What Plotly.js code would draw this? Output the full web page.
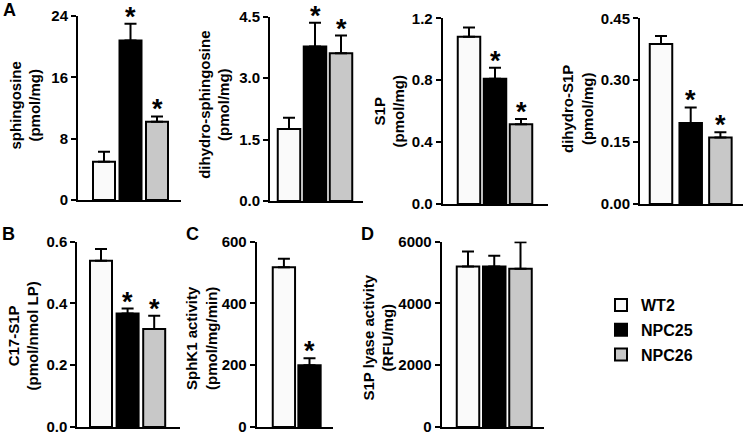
<!DOCTYPE html>
<html>
<head>
<meta charset="utf-8">
<script src="https://cdn.plot.ly/plotly-3.0.1.min.js"></script>
<style>html,body{margin:0;padding:0;background:#fff;}#chart{width:745px;height:436px;}</style>
</head>
<body>
<div id="chart"></div>
<script>
// ---- data ----
const groups = ['WT2', 'NPC25', 'NPC26'];

const sphingosineMean = [5.0, 20.8, 10.2];
const sphingosineSem  = [1.3, 2.2, 0.7];
const sphingosineSig  = [false, true, true];

const dihydroSphingosineMean = [1.76, 3.77, 3.61];
const dihydroSphingosineSem  = [0.27, 0.58, 0.43];
const dihydroSphingosineSig  = [false, true, true];

const s1pMean = [1.08, 0.81, 0.515];
const s1pSem  = [0.06, 0.07, 0.035];
const s1pSig  = [false, true, true];

const dihydroS1pMean = [0.388, 0.196, 0.161];
const dihydroS1pSem  = [0.019, 0.038, 0.013];
const dihydroS1pSig  = [false, true, true];

const c17S1pMean = [0.538, 0.367, 0.317];
const c17S1pSem  = [0.038, 0.016, 0.043];
const c17S1pSig  = [false, true, true];

const sphk1Mean = [517, 200, null];
const sphk1Sem  = [27, 22, null];
const sphk1Sig  = [false, true, false];

const lyaseMean = [5194, 5194, 5118];
const lyaseSem  = [483, 344, 860];
const lyaseSig  = [false, false, false];

const sphingosineTicks = [0, 8, 16, 24];
const dihydroSphingosineTicks = [0, 1.5, 3.0, 4.5];
const s1pTicks = [0, 0.4, 0.8, 1.2];
const dihydroS1pTicks = [0, 0.15, 0.30, 0.45];
const c17S1pTicks = [0, 0.2, 0.4, 0.6];
const sphk1Ticks = [0, 200, 400, 600];
const lyaseTicks = [0, 2000, 4000, 6000];

const yTitles = [
  'sphingosine<br>(pmol/mg)',
  'dihydro-sphingosine<br>(pmol/mg)',
  'S1P<br>(pmol/mg)',
  'dihydro-S1P<br>(pmol/mg)',
  'C17-S1P<br>(pmol/nmol LP)',
  'SphK1 activity<br>(pmol/mg/min)',
  'S1P lyase activity<br>(RFU/mg)'
];

const panelLetters = ['A', 'B', 'C', 'D'];

// ---- styling / geometry ----
const W = 745, H = 436;
const FONT = 'Liberation Sans, Arial, Helvetica, sans-serif';
const fillColors = ['#fafafa', '#000000', '#c8c8c8'];
const fx = p => p / W;
const fy = p => 1 - p / H;

// geometry in px: axis extents, first bar centre, bar pitch, bar width, title centre
const panels = [
  {mean: sphingosineMean, sem: sphingosineSem, sig: sphingosineSig, ticks: sphingosineTicks, fmt: 'd',
   left: 78, right: 181, top: 16, bottom: 200, c0: 104, sp: 26.5, bw: 22, tx: 24.5, ty: 106},
  {mean: dihydroSphingosineMean, sem: dihydroSphingosineSem, sig: dihydroSphingosineSig, ticks: dihydroSphingosineTicks, fmt: '.1f',
   left: 270, right: 363, top: 16.7, bottom: 201, c0: 289, sp: 26, bw: 22.5, tx: 213.8, ty: 105},
  {mean: s1pMean, sem: s1pSem, sig: s1pSig, ticks: s1pTicks, fmt: '.1f',
   left: 442.7, right: 548, top: 18.3, bottom: 204, c0: 469, sp: 26, bw: 22.5, tx: 389.5, ty: 111},
  {mean: dihydroS1pMean, sem: dihydroS1pSem, sig: dihydroS1pSig, ticks: dihydroS1pTicks, fmt: '.2f',
   left: 640, right: 743, top: 18.3, bottom: 204, c0: 661, sp: 29.7, bw: 22.5, tx: 577, ty: 109},
  {mean: c17S1pMean, sem: c17S1pSem, sig: c17S1pSig, ticks: c17S1pTicks, fmt: '.1f',
   left: 77.3, right: 180, top: 241.5, bottom: 427, c0: 101, sp: 26.6, bw: 22, tx: 22.5, ty: 336},
  {mean: sphk1Mean, sem: sphk1Sem, sig: sphk1Sig, ticks: sphk1Ticks, fmt: 'd',
   left: 256.7, right: 333, top: 241.5, bottom: 427, c0: 283.9, sp: 25.6, bw: 22.3, tx: 201, ty: 338},
  {mean: lyaseMean, sem: lyaseSem, sig: lyaseSig, ticks: lyaseTicks, fmt: 'd',
   left: 441.7, right: 544, top: 241.5, bottom: 427, c0: 468, sp: 26.25, bw: 22.5, tx: 377.5, ty: 338}
];

const letterPos = [[9, 10], [8.5, 233.5], [192, 233.5], [367.5, 233.5]];

const traces = [];
const annotations = [];
const layout = {
  width: W, height: H,
  margin: {l: 0, r: 0, t: 0, b: 0},
  paper_bgcolor: '#ffffff', plot_bgcolor: '#ffffff',
  barmode: 'overlay',
  showlegend: true,
  legend: {
    x: fx(601), y: fy(288), xanchor: 'left', yanchor: 'top',
    font: {family: FONT, size: 16, color: '#000', weight: 700},
    tracegroupgap: 1, bgcolor: 'rgba(0,0,0,0)', borderwidth: 0
  },
  font: {family: FONT, color: '#000'},
  annotations: annotations
};

panels.forEach((p, i) => {
  const n = i === 0 ? '' : String(i + 1);
  const xa = 'x' + n, ya = 'y' + n;
  layout['xaxis' + n] = {
    domain: [fx(p.left), fx(p.right)],
    anchor: ya, type: 'category', categoryarray: groups, categoryorder: 'array',
    range: [(p.left - p.c0) / p.sp, (p.right - p.c0) / p.sp],
    showticklabels: false, ticks: '', showgrid: false, zeroline: false,
    showline: true, linewidth: 2, linecolor: '#000', fixedrange: true
  };
  layout['yaxis' + n] = {
    domain: [fy(p.bottom), fy(p.top)],
    anchor: xa, range: [0, p.ticks[p.ticks.length - 1]],
    tickmode: 'array', tickvals: p.ticks, tickformat: p.fmt,
    ticks: 'outside', ticklen: 5, tickwidth: 2, tickcolor: '#000',
    ticklabeloverflow: 'allow',
    showgrid: false, zeroline: false, showline: true, linewidth: 2, linecolor: '#000',
    tickfont: {family: FONT, size: 15, color: '#000', weight: 700},
    fixedrange: true
  };
  // y-axis title (two lines, rotated), placed as in the reference
  annotations.push({
    xref: 'paper', yref: 'paper', x: fx(p.tx), y: fy(p.ty),
    xanchor: 'center', yanchor: 'middle', textangle: -90, showarrow: false,
    text: yTitles[i],
    font: {family: FONT, size: 15, color: '#000', weight: 700}
  });
  groups.forEach((g, k) => {
    if (p.mean[k] === null) return;
    traces.push({
      type: 'bar', name: g, legendgroup: g, showlegend: i === 0,
      x: [g], y: [p.mean[k]], xaxis: xa, yaxis: ya,
      width: p.bw / p.sp,
      marker: {color: fillColors[k], line: {color: '#000', width: 2}},
      error_y: {type: 'data', symmetric: false, array: [p.sem[k]], arrayminus: [0],
                color: '#000', thickness: 2, width: 6},
      hoverinfo: 'y'
    });
    if (p.sig[k]) {
      annotations.push({
        xref: xa, yref: ya, x: g, y: p.mean[k] + p.sem[k],
        text: '*', showarrow: false, xanchor: 'center', yanchor: 'bottom', yshift: -10,
        font: {family: FONT, size: 27, color: '#000', weight: 700}
      });
    }
  });
});

panelLetters.forEach((t, i) => {
  annotations.push({
    xref: 'paper', yref: 'paper', x: fx(letterPos[i][0]), y: fy(letterPos[i][1]),
    xanchor: 'center', yanchor: 'middle', text: t, showarrow: false,
    font: {family: FONT, size: 18, color: '#000', weight: 700}
  });
});

Plotly.newPlot('chart', traces, layout, {staticPlot: true, displayModeBar: false});
</script>
</body>
</html>
